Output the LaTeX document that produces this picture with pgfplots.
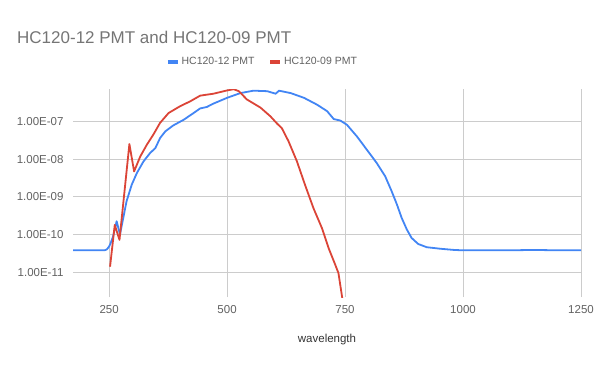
\documentclass[border=0pt]{standalone}
\usepackage{pgfplots}
\pgfplotsset{compat=1.18}
\usepackage{fontspec}
\setmainfont{Liberation Sans}
\definecolor{gblue}{HTML}{4285F4}
\definecolor{gred}{HTML}{DB4437}
\definecolor{titlegray}{HTML}{757575}
\definecolor{tickgray}{HTML}{616161}
\definecolor{gridgray}{HTML}{CCCCCC}
\begin{document}
\begin{tikzpicture}
\path[use as bounding box] (0,0) rectangle (600bp,371bp);
\node[anchor=west, text=titlegray, font=\fontsize{17bp}{20bp}\selectfont, inner sep=0pt] at (17bp,334bp) {HC120-12 PMT and HC120-09 PMT};
\begin{axis}[
  at={(73bp,74bp)}, anchor=south west,
  scale only axis, width=508bp, height=208bp,
  xmin=173.5, xmax=1250,
  ymode=log, ymin=2.2e-12, ymax=7.2e-7,
  xtick={250,500,750,1000,1250},
  ytick={1e-11,1e-10,1e-9,1e-8,1e-7},
  yticklabels={1.00E-11,1.00E-10,1.00E-09,1.00E-08,1.00E-07},
  minor ytick={}, minor xtick={},
  minor tick length=0pt,
  /pgf/number format/assume math mode=true,
  /pgf/number format/1000 sep={},
  xmajorgrids, ymajorgrids,
  major grid style={draw=gridgray, line width=0.8bp},
  axis line style={draw=none},
  major tick length=0pt,
  tick style={draw=none},
  tick label style={text=tickgray, font=\fontsize{11.5bp}{13bp}\selectfont},
  yticklabel style={xshift=-6bp},
  xticklabel style={yshift=-5bp},
  xlabel={wavelength},
  xlabel style={font=\fontsize{11.5bp}{13bp}\selectfont, text=black!80, yshift=-14bp},
  legend columns=2,
  legend style={at={(axis description cs:0.177,1.13)}, anchor=west, draw=none, fill=none,
    font=\fontsize{10.5bp}{12bp}\selectfont, text=tickgray,
    /tikz/every even column/.append style={column sep=12bp}},
  legend image code/.code={\draw[#1, line width=3.5bp] (0bp,0bp) -- (10bp,0bp);},
]
\addplot[gblue, line width=1.8bp, line join=round] coordinates {
(173.5,3.8e-11) (200,3.8e-11) (240,3.8e-11) (245,4.0e-11) (249,4.6e-11) (252,5.4e-11)
(258,8.5e-11) (266,2.24e-10) (273,1.0e-10) (280,2.75e-10) (287,7.6e-10) (298,2.1e-9)
(309,4.3e-9) (323,8.7e-9) (337,1.45e-8) (348,1.95e-8) (358,3.6e-8) (369,5.4e-8)
(386,7.8e-8) (408,1.1e-7) (429,1.66e-7) (443,2.2e-7) (457,2.4e-7) (471,2.95e-7)
(500,4.2e-7) (528,5.6e-7) (556,6.5e-7) (585,6.3e-7) (603,5.4e-7) (610,6.5e-7)
(635,5.6e-7) (663,4.2e-7) (691,2.75e-7) (712,1.86e-7) (726,1.15e-7) (740,1.05e-7)
(754,8.1e-8) (775,4.0e-8) (796,1.78e-8) (817,7.9e-9) (835,3.5e-9) (849,1.38e-9)
(860,6.2e-10) (870,2.75e-10) (881,1.35e-10) (891,8.1e-11) (905,5.6e-11) (923,4.6e-11)
(951,4.2e-11) (980,3.9e-11) (1000,3.8e-11) (1100,3.8e-11) (1150,3.9e-11) (1200,3.8e-11)
(1250,3.8e-11)
};
\addlegendentry{HC120-12 PMT}
\addplot[gred, line width=1.8bp, line join=round] coordinates {
(252,1.4e-11) (262,1.8e-10) (272,7.2e-11) (293,2.5e-8) (303,4.7e-9) (316,1.17e-8)
(330,2.4e-8) (344,4.5e-8) (358,9.1e-8) (376,1.66e-7) (400,2.5e-7) (422,3.4e-7)
(443,4.8e-7) (471,5.4e-7) (500,6.6e-7) (514,7.1e-7) (525,6.3e-7) (542,3.8e-7)
(571,2.3e-7) (592,1.35e-7) (606,8.7e-8) (616,6.6e-8) (630,3.0e-8) (648,8.7e-9)
(665,2.1e-9) (683,5.0e-10) (701,1.48e-10) (715,4.4e-11) (729,1.6e-11) (736,9.5e-12)
(744,2.1e-12) (748,1.0e-12)
};
\addlegendentry{HC120-09 PMT}
\end{axis}
\end{tikzpicture}
\end{document}
